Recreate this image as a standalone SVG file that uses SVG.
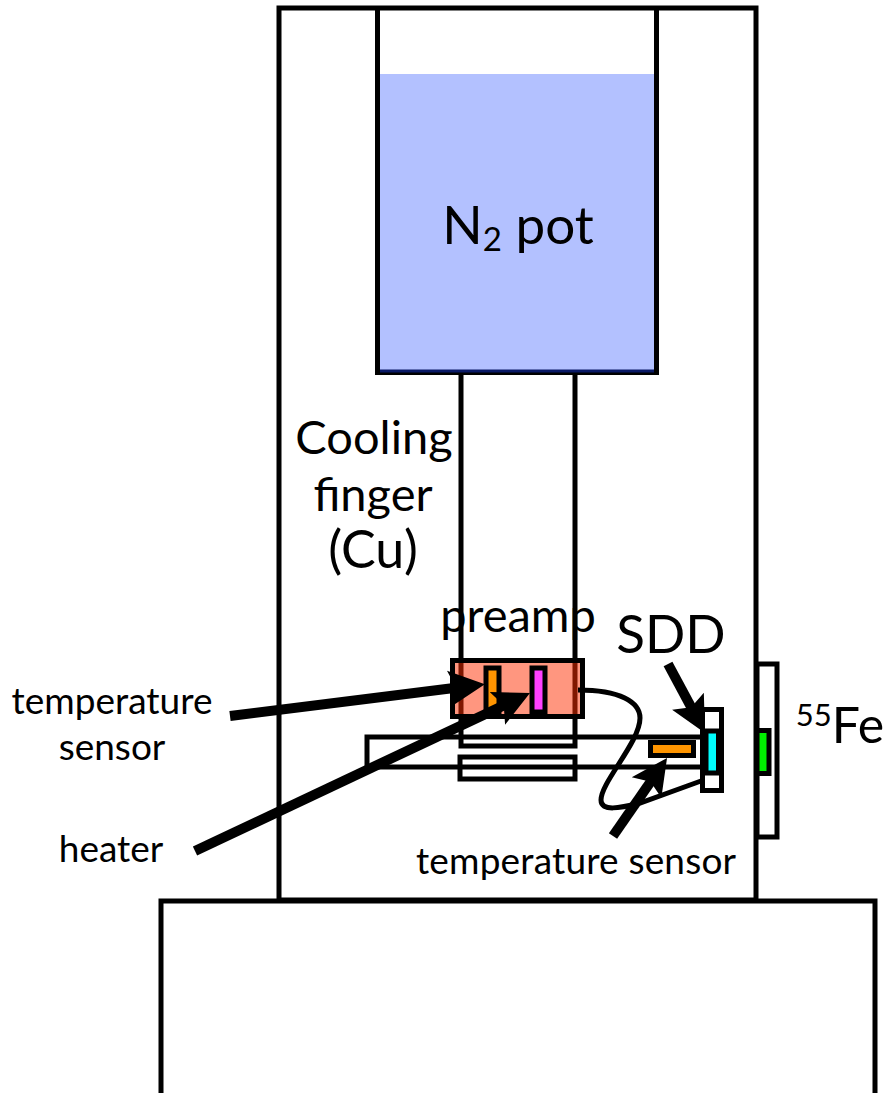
<svg xmlns="http://www.w3.org/2000/svg" width="886" height="1093" viewBox="0 0 886 1093">
<style>
.s{fill:none;stroke:#000;stroke-width:5}
.w{fill:#fff;stroke:#000;stroke-width:5}
.a{fill:none;stroke:#000;stroke-width:10;marker-end:url(#h)}
text{font-family:Lato,"Open Sans","Liberation Sans",sans-serif;fill:#000;text-anchor:middle}
.l{font-size:47px}.m{font-size:37px}
</style>
<defs>
<marker id="h" markerUnits="userSpaceOnUse" markerWidth="44" markerHeight="44" refX="21" refY="20" orient="auto" viewBox="0 0 44 44">
<path d="M36 20L0 2L7 20L0 38Z" fill="#000"/>
</marker>
</defs>
<rect width="886" height="1093" fill="#fff"/>
<g id="cryostat"><rect class="s" x="279" y="8" width="477" height="892"/></g>
<g id="base"><path class="s" d="M161 1093V901H875V1093"/></g>
<g id="n2-pot">
<rect x="379" y="74" width="276" height="297" fill="#b3c1ff"/>
<path d="M377.500 8V372.500H656.500V8" fill="none" stroke="#000" stroke-width="5"/>
<path d="M380 371H654" stroke="#0a1a66" stroke-width="3"/>
<text x="518" y="244" font-size="53">N<tspan font-size="33" dy="7">2</tspan><tspan dy="-7"> pot</tspan></text>
</g>
<g id="finger">
<path class="s" d="M461 374V746H575V374"/>
<rect class="s" x="460" y="757" width="115" height="22"/>
<text class="l" x="374" y="454">Cooling</text>
<text class="l" x="373" y="511">finger</text>
<text x="373" y="568" font-size="52">(Cu)</text>
</g>
<g id="mount"><path class="s" d="M703 737H367V767H703"/></g>
<g id="preamp">
<rect x="452.500" y="660.500" width="130" height="56" fill="#ff2d00" fill-opacity="0.5" stroke="#000" stroke-width="5"/>
<rect x="486" y="668" width="13" height="45" fill="#ff9500" stroke="#000" stroke-width="5"/>
<rect x="532" y="668" width="13" height="44" fill="#ff40ff" stroke="#000" stroke-width="5"/>
<text class="l" x="518" y="632">preamp</text>
</g>
<g id="sdd">
<rect class="w" x="702.500" y="709.500" width="19" height="81"/>
<rect x="706" y="731" width="12.500" height="42" fill="#00ffff" stroke="#000" stroke-width="5"/>
<rect x="650.500" y="742.500" width="43" height="13" fill="#ff9500" stroke="#000" stroke-width="5"/>
<text x="671" y="653" font-size="53">SDD</text>
</g>
<g id="source">
<rect class="w" x="757" y="664" width="20" height="173"/>
<rect x="757" y="730.500" width="12" height="43" fill="#00f000" stroke="#000" stroke-width="5"/>
<text x="840" y="743" font-size="50"><tspan font-size="31" dy="-17">55</tspan><tspan dy="17">Fe</tspan></text>
</g>
<g id="labels">
<text class="m" x="112" y="714">temperature</text>
<text class="m" x="112" y="760">sensor</text>
<text class="m" x="111" y="862">heater</text>
<text class="m" x="576" y="874" font-size="37" textLength="320">temperature sensor</text>
</g>
<g id="connectors">
<path d="M578 690C620 690 640 702 640 718C640 742 601 782 601 800C601 812 620 808 640 803L701 781" fill="none" stroke="#000" stroke-width="5"/>
<path class="a" d="M230 716L470 686"/>
<path class="a" d="M195 851L516.400 699.400"/>
<path class="a" d="M668 664L697.900 719.700"/>
<path class="a" d="M613 836L658.500 770.300"/>
</g>
</svg>
